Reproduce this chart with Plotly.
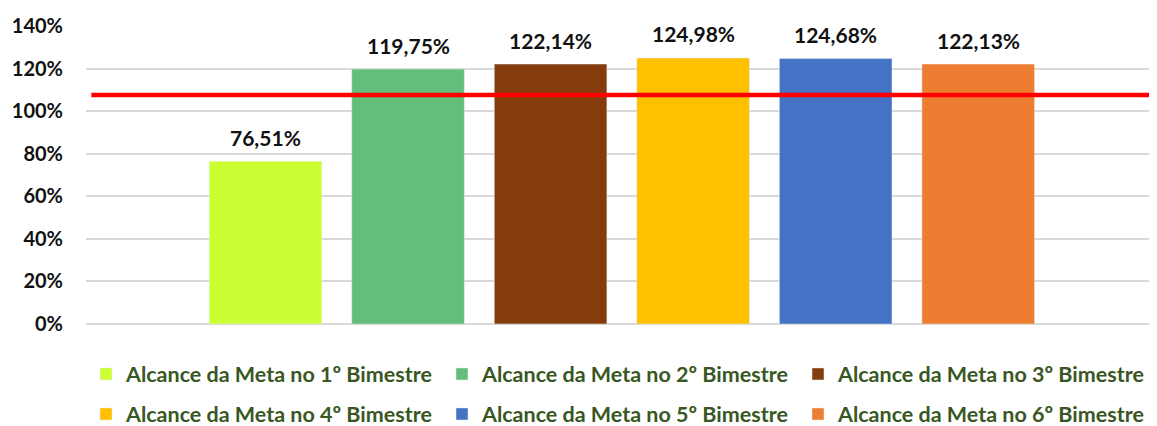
import plotly.graph_objects as go

categories = ["Alcance da Meta no 1º Bimestre", "Alcance da Meta no 2º Bimestre",
              "Alcance da Meta no 3º Bimestre", "Alcance da Meta no 4º Bimestre",
              "Alcance da Meta no 5º Bimestre", "Alcance da Meta no 6º Bimestre"]
values = [76.51, 119.75, 122.14, 124.98, 124.68, 122.13]
colors = ["#CCFF33", "#63BE7B", "#843C0C", "#FFC000", "#4472C4", "#ED7D31"]
meta_line = 107.6
tick_vals = [0, 20, 40, 60, 80, 100, 120, 140]
tick_text = ["0%", "20%", "40%", "60%", "80%", "100%", "120%", "140%"]

FONT = "Lato"
fig = go.Figure()
for i, (name, v, c) in enumerate(zip(categories, values, colors)):
    fig.add_trace(go.Bar(
        x=[i], y=[v], name=name, marker_color=c, width=0.79,
        legend="legend" if i < 3 else "legend2", hoverinfo="skip"))
    fig.add_annotation(x=i, y=v, text=f"{v:.2f}%".replace(".", ","), showarrow=False,
                       yanchor="middle", yshift=24,
                       font=dict(family=FONT, size=21, color="#111111", weight="bold"))

fig.add_shape(type="line", xref="paper", yref="y", x0=0.005, x1=1.0,
              y0=meta_line, y1=meta_line, line=dict(color="#FF0000", width=4.5))

legend_common = dict(orientation="h", xanchor="left", yanchor="middle",
                     entrywidth=311, entrywidthmode="pixels",
                     font=dict(family=FONT, size=21.5, color="#385723", weight="bold"),
                     bgcolor="rgba(0,0,0,0)", traceorder="normal")
fig.update_layout(
    width=1149, height=418,
    margin=dict(l=78, r=2, t=18, b=102, autoexpand=False),
    paper_bgcolor="white", plot_bgcolor="white",
    barmode="overlay",
    showlegend=True,
    legend=dict(x=0.0, y=-0.1678, **legend_common),
    legend2=dict(x=0.0, y=-0.302, **legend_common),
    xaxis=dict(range=[-1.259, 6.24], showticklabels=False, showgrid=False,
               zeroline=False, showline=False, ticks=""),
    yaxis=dict(range=[0, 140], tickvals=tick_vals, ticktext=tick_text,
               showgrid=True, gridcolor="#D9D9D9", gridwidth=1.5,
               zeroline=True, zerolinecolor="#D9D9D9", zerolinewidth=1.5,
               ticklabelstandoff=22,
               tickfont=dict(family=FONT, size=20, color="#111111", weight="bold")),
)
fig.write_html("out.html")
